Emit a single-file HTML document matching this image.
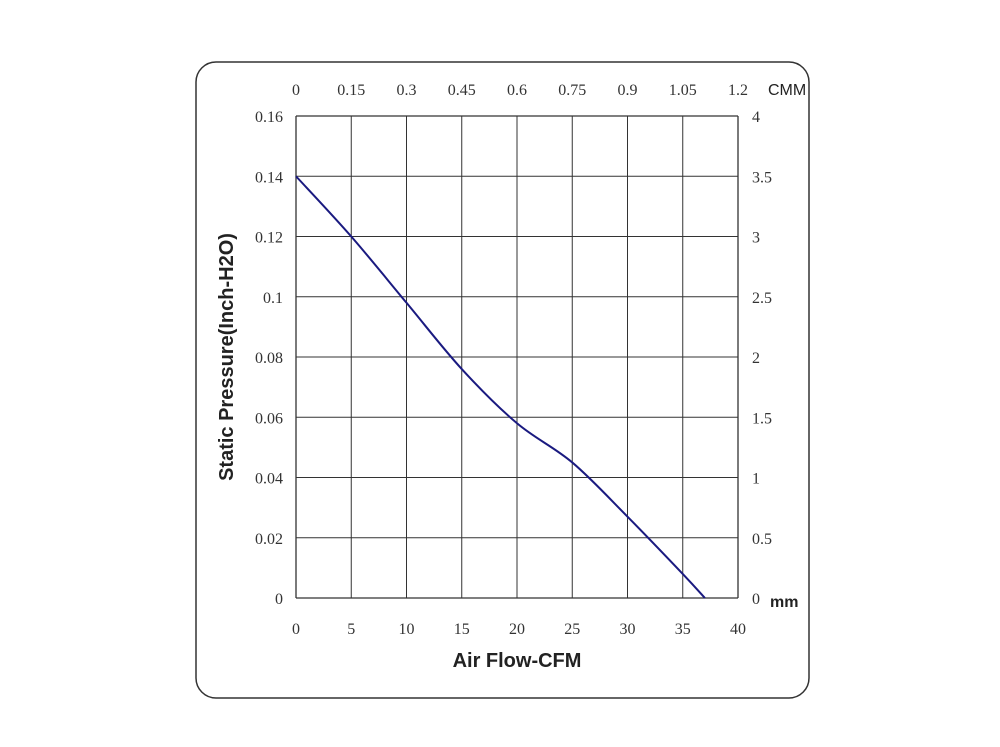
<!DOCTYPE html>
<html><head><meta charset="utf-8"><style>
body{margin:0;background:#fff;width:1000px;height:747px;overflow:hidden}
svg{display:block}
.t{font-family:"Liberation Serif",serif;font-size:16px;fill:#333}
.b{font-family:"Liberation Sans",sans-serif;font-weight:bold;fill:#222}
</style></head><body>
<svg id="chart" width="1000" height="747" viewBox="0 0 1000 747">
<rect x="196" y="62" width="613" height="636" rx="20" fill="#fff" stroke="#333" stroke-width="1.5"/>
<g id="grid"></g><g id="labels"></g>
<text x="768" y="95" class="b" style="font-weight:normal;font-size:16px">CMM</text>
<text x="770" y="607" class="b" style="font-size:16px">mm</text>
<text x="517" y="667" text-anchor="middle" class="b" style="font-size:20px">Air Flow-CFM</text>
<text transform="translate(233,357) rotate(-90)" text-anchor="middle" class="b" style="font-size:20px">Static Pressure(Inch-H2O)</text>
<path id="curve" fill="none" stroke="#1a1a80" stroke-width="2"/>
</svg>
<script>
const xTicks=[0,5,10,15,20,25,30,35,40];
const topTicks=["0","0.15","0.3","0.45","0.6","0.75","0.9","1.05","1.2"];
const yTicks=[0,0.02,0.04,0.06,0.08,0.1,0.12,0.14,0.16];
const yLabels=["0","0.02","0.04","0.06","0.08","0.1","0.12","0.14","0.16"];
const rightLabels=["0","0.5","1","1.5","2","2.5","3","3.5","4"];
const flow=[0,5,10,15,20,25,30,35,37];
const pressure=[0.14,0.12,0.098,0.076,0.058,0.045,0.027,0.008,0];
const X0=296,X1=738,Y0=598,Y1=116;
const sx=v=>X0+(v-0)/40*(X1-X0);
const sy=v=>Y0-(v/0.16)*(Y0-Y1);
const NS="http://www.w3.org/2000/svg";
const g=document.getElementById('grid'),L=document.getElementById('labels');
function mk(tag,attrs,parent){const e=document.createElementNS(NS,tag);for(const k in attrs)e.setAttribute(k,attrs[k]);parent.appendChild(e);return e;}
xTicks.forEach((v,i)=>{
  const l=mk('line',{x1:sx(v),x2:sx(v),y1:Y1,y2:Y0,stroke:'#333','stroke-width':(i==0||i==8)?1.3:1},g);
  
  
  const t=mk('text',{x:sx(v),y:634,'text-anchor':'middle',class:'t'},L);t.textContent=v;
  
  
  const u=mk('text',{x:sx(v),y:95,'text-anchor':'middle',class:'t'},L);u.textContent=topTicks[i];
  
  
});
yTicks.forEach((v,i)=>{
  const l=mk('line',{x1:X0,x2:X1,y1:sy(v),y2:sy(v),stroke:'#333','stroke-width':(i==0||i==8)?1.3:1},g);
  
  
  const t=mk('text',{x:283,y:sy(v)+6,'text-anchor':'end',class:'t'},L);t.textContent=yLabels[i];
  
  
  const u=mk('text',{x:752,y:sy(v)+6,class:'t'},L);u.textContent=rightLabels[i];
  
  
});
const P=flow.map((f,i)=>[sx(f),sy(pressure[i])]);
let d='M'+P[0][0]+','+P[0][1];
for(let i=0;i<P.length-1;i++){
  const p0=P[Math.max(0,i-1)],p1=P[i],p2=P[i+1],p3=P[Math.min(P.length-1,i+2)];
  const c1=[p1[0]+(p2[0]-p0[0])/6,p1[1]+(p2[1]-p0[1])/6];
  const c2=[p2[0]-(p3[0]-p1[0])/6,p2[1]-(p3[1]-p1[1])/6];
  d+=' C'+c1+' '+c2+' '+p2;
}
document.getElementById('curve').setAttribute('d',d);
</script>
</body></html>
